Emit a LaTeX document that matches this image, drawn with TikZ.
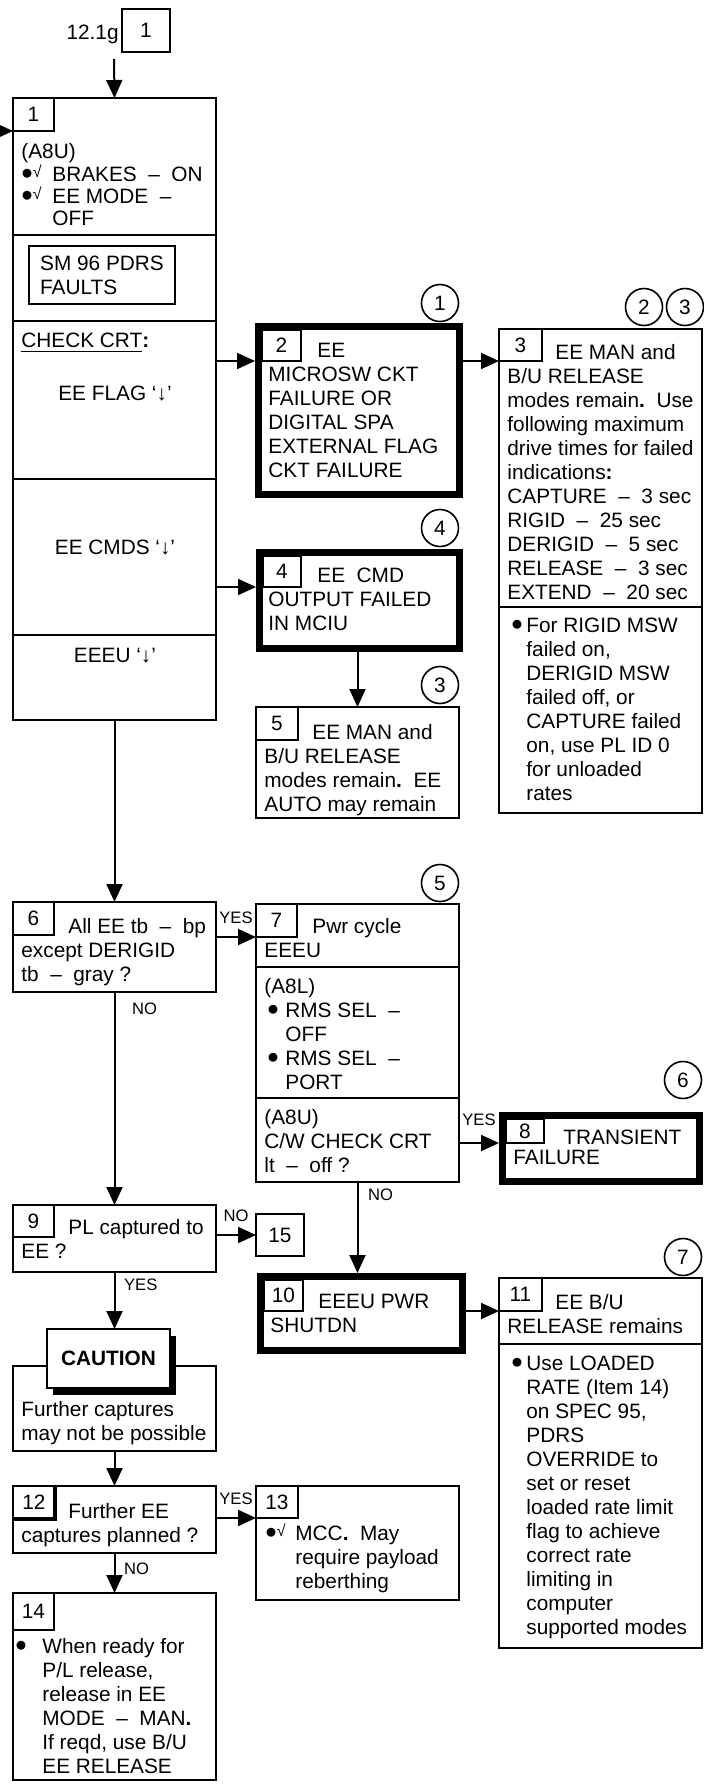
\documentclass[tikz,border=0pt]{standalone}
\usepackage{fontspec}
\setmainfont{Liberation Sans}
\usetikzlibrary{positioning,arrows.meta,shadows}

\newcommand\md{\ \ –\ \ }
\newcommand\blt{\raisebox{1pt}{\scalebox{1.15}{$\bullet$}}}
\newcommand\chk{\raisebox{2pt}{\fontsize{8}{8}\selectfont √}}
\newcommand\bull{\makebox[7.5pt][l]{\blt}}
\newcommand\ind{\hspace*{7.5pt}}

\tikzset{
  box/.style={draw, line width=1pt, inner sep=0pt, outer sep=0pt, anchor=north west, minimum width=101.5pt},
  heavy/.style={draw, line width=3.5pt, inner sep=0pt, outer sep=1.75pt, anchor=north west},
  num/.style={draw, line width=1pt, inner sep=0pt, outer sep=0pt, anchor=north west, minimum width=20.5pt, minimum height=16.5pt},
  circ/.style={draw, circle, line width=0.8pt, inner sep=0pt, minimum size=18.5pt},
  txt/.style={anchor=north west, yshift=8.4pt, align=left, inner sep=0pt, execute at begin node=\strut},
  lbl/.style={font=\fontsize{8.3}{9}\selectfont},
  arr/.style={line width=1pt, -{Triangle[length=9pt,width=8pt]}},
}

\begin{document}
\begin{tikzpicture}[x=0.5pt, y=-0.5pt, font=\fontsize{10.4}{12}\selectfont]
\useasboundingbox (0,0) rectangle (703,1785);

% entry
\node[anchor=base east, inner sep=0pt] (src) at (119,39) {12.1g};
\node[num, minimum width=24pt, minimum height=21.5pt] (r1) at (122,9) {1};
\coordinate (top) at (114,59);
\coordinate (in1) at (-8,131);

% block 1
\node[box, minimum height=68.5pt] (b1a) at (13,98) {};
\node[box, minimum height=43pt, below=0pt of b1a] (b1b) {};
\node[box, minimum height=79pt, below=0pt of b1b] (b1c) {};
\node[box, minimum height=78pt, below=0pt of b1c] (b1d) {};
\node[box, minimum height=42.5pt, below=0pt of b1d] (b1e) {};
\node[num] (n1) at (13,98) {1};
\node[txt, font=\fontsize{10.4}{11.2}\selectfont, yshift=-0.5pt] (t1a) at (21,159) {(A8U)\\\makebox[15.5pt][l]{\blt\chk}BRAKES\md ON\\\makebox[15.5pt][l]{\blt\chk}EE MODE\md\\\hspace*{15.5pt}OFF};
\node[draw, line width=1pt, inner sep=0pt, outer sep=0pt, anchor=north west, minimum width=73pt, minimum height=29pt, align=left] (sm) at (29,246) {SM 96 PDRS\\FAULTS};
\node[txt] (t1c) at (21,347.5) {\underline{CHECK CRT}\textbf{:}};
\node[anchor=base, inner sep=0pt] (flag) at (115,400.5) {EE FLAG ‘↓’};
\node[anchor=base, inner sep=0pt] (cmds) at (115,554.5) {EE CMDS ‘↓’};
\node[anchor=base, inner sep=0pt] (eeeu) at (115,662.5) {EEEU ‘↓’};

% block 2
\node[heavy, minimum width=100.5pt, minimum height=84pt] (b2) at (255,323) {};
\node[num, minimum width=19.5pt, minimum height=15.5pt] (n2) at (262,330) {2};
\node[txt] (t2) at (268,359.5) {\hspace*{24.5pt}EE\\MICROSW CKT\\FAILURE OR\\DIGITAL SPA\\EXTERNAL FLAG\\CKT FAILURE};
\node[circ] (c1) at (440,303) {1};

% block 3
\node[box, minimum height=139pt] (b3a) at (499,329) {};
\node[box, minimum height=103pt, below=0pt of b3a] (b3b) {};
\node[num, minimum width=21.5pt, minimum height=16pt] (n3) at (499,329) {3};
\node[txt] (t3a) at (507,360.5) {\hspace*{24pt}EE MAN and\\B/U RELEASE\\modes remain\textbf{.}\ \ Use\\following maximum\\drive times for failed\\indications\textbf{:}\\CAPTURE\md 3 sec\\RIGID\md 25 sec\\DERIGID\md 5 sec\\RELEASE\md 3 sec\\EXTEND\md 20 sec};
\node[txt] (t3b) at (511,634.5) {\bull For RIGID MSW\\\ind failed on,\\\ind DERIGID MSW\\\ind failed off, or\\\ind CAPTURE failed\\\ind on, use PL ID 0\\\ind for unloaded\\\ind rates};
\node[circ] (c2) at (644,307) {2};
\node[circ] (c3) at (685,307) {3};

% block 4
\node[heavy, minimum width=100pt, minimum height=48pt] (b4) at (256,549) {};
\node[num, minimum width=19pt, minimum height=15.5pt] (n4) at (263,556) {4};
\node[txt] (t4) at (268,584.5) {\hspace*{24.5pt}EE\ \ CMD\\OUTPUT FAILED\\IN MCIU};
\node[circ] (c4) at (440,528) {4};

% block 5
\node[box, minimum height=55.5pt] (b5) at (256,707) {};
\node[num, minimum width=21pt] (n5) at (256,707) {5};
\node[txt] (t5) at (264,740.5) {\hspace*{24pt}EE MAN and\\B/U RELEASE\\modes remain\textbf{.}\ \ EE\\AUTO may remain};
\node[circ] (c3b) at (440,685) {3};

% block 6
\node[box, minimum height=45pt] (b6) at (13,902) {};
\node[num] (n6) at (13,902) {6};
\node[txt] (t6) at (21,934.5) {\hspace*{23.5pt}All EE tb\md bp\\except DERIGID\\tb\md gray ?};

% block 7
\node[box, minimum height=31.5pt] (b7a) at (256,904) {};
\node[box, minimum height=65.5pt, below=0pt of b7a] (b7b) {};
\node[box, minimum height=42pt, below=0pt of b7b] (b7c) {};
\node[num] (n7) at (256,904) {7};
\node[txt] (t7a) at (264,935) {\hspace*{24pt}Pwr cycle\\EEEU};
\node[txt] (t7b) at (264,994.5) {(A8L)\\\hspace*{1.5pt}\makebox[9pt][l]{\blt}RMS SEL\md\\\hspace*{10.5pt}OFF\\\hspace*{1.5pt}\makebox[9pt][l]{\blt}RMS SEL\md\\\hspace*{10.5pt}PORT};
\node[txt] (t7c) at (264,1125.5) {(A8U)\\C/W CHECK CRT\\lt\md off ?};
\node[circ] (c5) at (440,883) {5};

% block 8
\node[heavy, minimum width=98.5pt, minimum height=33pt] (b8) at (499,1112) {};
\node[num, minimum width=19pt, minimum height=12pt] (n8) at (506,1119) {8};
\node[txt] (t8) at (513,1146) {\hspace*{25pt}TRANSIENT\\[-2pt]FAILURE};
\node[circ] (c6) at (683,1080) {6};

% block 9 and 15
\node[box, minimum height=33.5pt] (b9) at (13,1205) {};
\node[num, minimum height=16pt] (n9) at (13,1205) {9};
\node[txt] (t9) at (21,1235.5) {\hspace*{23.5pt}PL captured to\\EE ?};
\node[num, minimum width=24pt, minimum height=21pt] (b15) at (256,1214) {15};

% caution
\node[box, minimum height=42.5pt] (cb) at (13,1366) {};
\node[txt] (tcb) at (21,1417.5) {Further captures\\may not be possible};
\node[draw, line width=1pt, fill=white, inner sep=0pt, outer sep=0pt, minimum width=61.5pt, minimum height=29.5pt, font=\bfseries\fontsize{10.4}{12}\selectfont, drop shadow={shadow xshift=3pt, shadow yshift=-3.5pt, fill=black, opacity=1}] (cau) at (108.5,1358.5) {CAUTION};

% block 10
\node[heavy, minimum width=101pt, minimum height=37pt] (b10) at (257,1273) {};
\node[num, minimum width=19.5pt, minimum height=15.5pt] (n10) at (264,1280) {10};
\node[txt] (t10) at (270,1310.5) {\hspace*{24pt}EEEU PWR\\SHUTDN};

% block 11
\node[box, minimum height=33pt] (b11a) at (499,1278) {};
\node[box, minimum height=152pt, below=0pt of b11a] (b11b) {};
\node[num, minimum width=21.5pt] (n11) at (499,1278) {11};
\node[txt] (t11a) at (507,1310.5) {\hspace*{24pt}EE B/U\\RELEASE remains};
\node[txt] (t11b) at (511,1372.5) {\bull Use LOADED\\\ind RATE (Item 14)\\\ind on SPEC 95,\\\ind PDRS\\\ind OVERRIDE to\\\ind set or reset\\\ind loaded rate limit\\\ind flag to achieve\\\ind correct rate\\\ind limiting in\\\ind computer\\\ind supported modes};
\node[circ] (c7) at (683,1257) {7};

% block 12
\node[box, minimum height=33.5pt] (b12) at (13,1486) {};
\node[num, minimum width=21pt] (n12) at (13,1486) {12};
\draw[line width=2.4pt] (n12.north east) -- (n12.south east) -- (n12.south west);
\node[txt] (t12) at (21,1519.5) {\hspace*{23.5pt}Further EE\\captures planned ?};

% block 13
\node[box, minimum height=57pt] (b13) at (256,1486) {};
\node[num, minimum width=21pt, minimum height=16pt] (n13) at (256,1486) {13};
\node[txt] (t13) at (265,1540.5) {\makebox[15pt][l]{\blt\chk}MCC\textbf{.}\ \ May\\\hspace*{15pt}require payload\\\hspace*{15pt}reberthing};

% block 14
\node[box, minimum height=93.5pt] (b14) at (13,1593) {};
\node[num, minimum height=18.5pt] (n14) at (13,1593) {14};
\node[txt] (t14) at (15,1654.5) {\makebox[13.5pt][l]{\blt}When ready for\\\hspace*{13.5pt}P/L release,\\\hspace*{13.5pt}release in EE\\\hspace*{13.5pt}MODE\md MAN\textbf{.}\\\hspace*{13.5pt}If reqd, use B/U\\\hspace*{13.5pt}EE RELEASE};

% connectors
\draw[arr] (top) -- (b1a.north);
\draw[arr] (in1) -- (n1.south west);
\draw[arr] (b1c.east |- n2.south) -- (b2.west |- n2.south);
\draw[arr] (b2.east |- n3.south) -- (n3.south west);
\draw[arr] (b1d.east |- n4.south) -- (b4.west |- n4.south);
\draw[arr] (b5.north |- b4.south) -- (b5.north);
\draw[arr] (b1e.south) -- (b6.north);
\draw[arr] (b6.east |- n7.south) -- node[lbl, above=3pt] (y6) {YES} (n7.south west);
\draw[arr] (b6.south) -- node[lbl, right=5pt, pos=0.08] (no6) {NO} (b9.north);
\draw[arr] (b7c.east |- n8.south) -- node[lbl, above=5pt] (y7) {YES} (b8.west |- n8.south);
\draw[arr] (b7c.south) -- node[lbl, right=1.5pt, pos=0.14] (no7) {NO} (b7c.south |- b10.north);
\draw[arr] (b9.east |- b15.west) -- node[lbl, above=3pt] (no9) {NO} (b15.west);
\draw[arr] (b9.south) -- node[lbl, right=1pt, pos=0.23] (y9) {YES} (b9.south |- cau.north);
\draw[arr] (cb.south) -- (b12.north);
\draw[arr] (b10.east |- n11.south) -- (n11.south west);
\draw[arr] (b12.east |- n13.south) -- node[lbl, above=3pt] (y12) {YES} (n13.south west);
\draw[arr] (b12.south) -- node[lbl, right=1pt, pos=0.4] (no12) {NO} (b14.north);
\end{tikzpicture}
\end{document}
